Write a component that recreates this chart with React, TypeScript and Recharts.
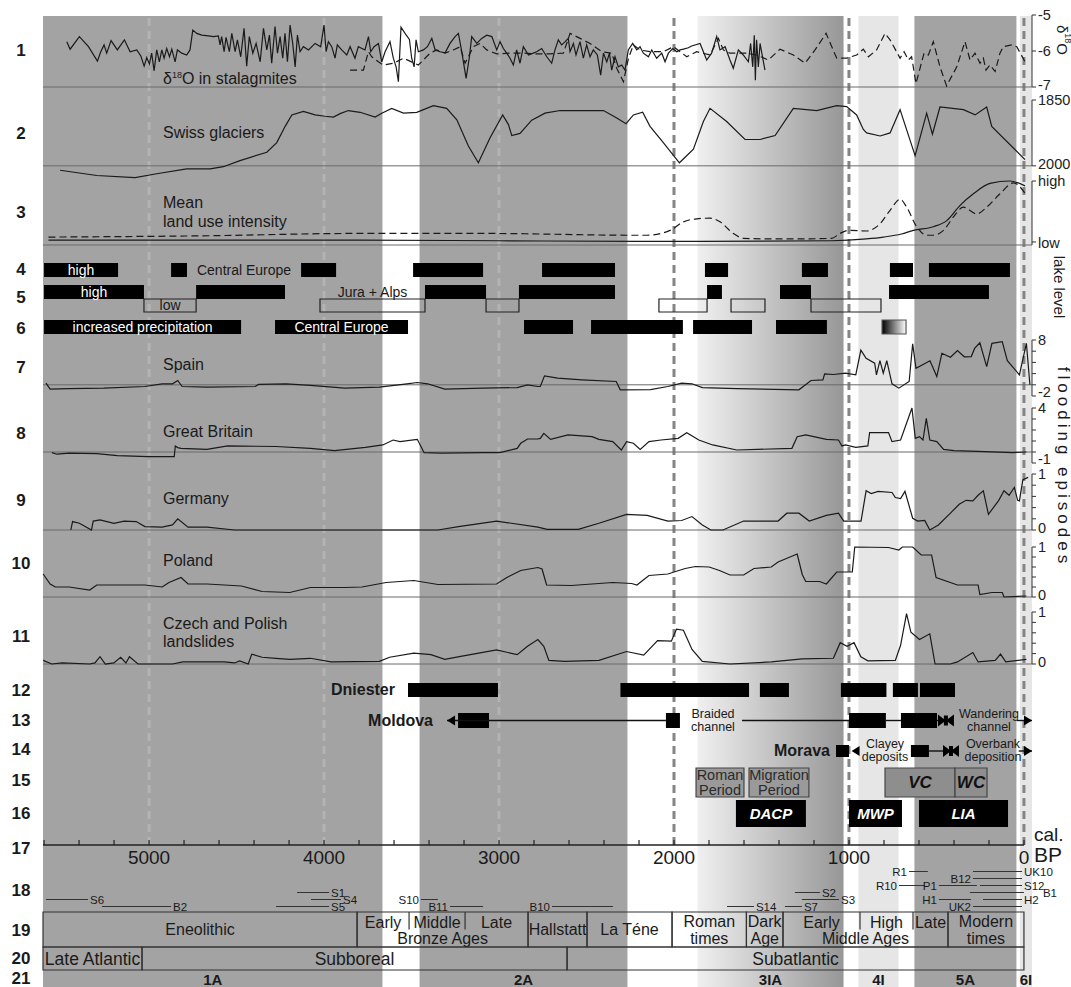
// App.tsx – multi-proxy Holocene panel (cal. BP), stacked Recharts strips
import React from 'react';
import {
  ComposedChart,
  LineChart,
  Line,
  XAxis,
  YAxis,
  ReferenceArea,
  ReferenceLine,
  ReferenceDot,
} from 'recharts';

const W = 1071;
const LEFT = 43;
const XMIN = -46;
const XMAX = 5606;
const FONT = 'Arial, "Liberation Sans", Helvetica, sans-serif';

type Pt = [number, number];
type Span = [number, number, string?];

// ---- background zones: [label, from, to, tone]
const BANDS: [string, number, number, string][] = [
  ['1A', 5606, 3666, 'dark'],
  ['2A', 3454, 2266, 'dark'],
  ['3IA', 1866, 1031, 'fade'],
  ['4I', 946, 717, 'light'],
  ['5A', 626, 43, 'dark'],
  ['6I', 23, -46, 'light'],
];
const GRID_YEARS = [5000, 4000, 3000, 2000, 1000, 0];
const AXIS_TICKS = [
  5600, 5400, 5200, 5000, 4800, 4600, 4400, 4200, 4000, 3800, 3600, 3400, 3200, 3000,
  2800, 2600, 2400, 2200, 2000, 1800, 1600, 1400, 1200, 1000, 800, 600, 400, 200, 0,
];

// ---- 1: d18O in stalagmites [yr BP, permil]
const STALAG_SOLID: Pt[] = [
  [5470, -5.74], [5451, -5.95], [5398, -5.6], [5346, -5.88], [5295, -6.28], [5276, -6.02], [5257, -5.83],
  [5242, -6.06], [5217, -5.71], [5181, -5.97], [5141, -5.69], [5108, -6.02], [5070, -5.97], [5047, -6.14],
  [5028, -6.42], [5013, -6.18], [4998, -6.36], [4985, -6.06], [4971, -6.55], [4956, -5.97], [4941, -6.3],
  [4927, -5.97], [4914, -6.2], [4899, -5.93], [4883, -6.16], [4870, -5.95], [4851, -6.3], [4838, -5.97],
  [4813, -6.06], [4785, -6.11], [4766, -5.97], [4750, -5.42], [4727, -5.51], [4699, -5.56], [4661, -5.58],
  [4632, -5.6], [4604, -5.58], [4594, -5.83], [4585, -5.6], [4571, -6.02], [4560, -5.62], [4541, -6.02],
  [4527, -5.51], [4508, -6.02], [4495, -5.69], [4476, -6.16], [4457, -5.37], [4442, -6.42], [4427, -5.6],
  [4407, -6.06], [4388, -5.79], [4365, -6.3], [4346, -5.37], [4327, -5.97], [4312, -5.56], [4299, -6.34],
  [4280, -5.32], [4266, -6.06], [4251, -5.6], [4236, -6.2], [4223, -5.51], [4209, -6.3], [4194, -5.28],
  [4179, -5.79], [4165, -6.44], [4152, -5.56], [4137, -6.02], [4118, -5.88], [4089, -5.97], [4051, -5.79],
  [4019, -5.88], [4000, -5.28], [3988, -6.02], [3975, -5.74], [3956, -5.88], [3937, -6.2], [3924, -5.83],
  [3899, -5.97], [3870, -6.11], [3851, -5.88], [3823, -6.2], [3804, -5.88], [3766, -5.97], [3746, -5.6],
  [3733, -6.02], [3714, -5.88], [3689, -5.79], [3670, -6.3], [3651, -6.02], [3623, -5.74], [3604, -6.2],
  [3588, -6.44], [3575, -6.85], [3560, -5.34], [3537, -5.51], [3512, -5.68], [3499, -6.2], [3485, -6.44],
  [3474, -5.69], [3461, -6.02], [3432, -5.97], [3409, -5.88], [3384, -5.65], [3365, -5.97], [3337, -6.02],
  [3308, -6.05], [3280, -5.79], [3251, -5.6], [3232, -5.51], [3213, -6.02], [3188, -6.76], [3169, -6.16],
  [3156, -5.6], [3127, -5.79], [3099, -5.65], [3070, -5.56], [3041, -5.6], [3013, -5.97], [2994, -5.74],
  [2975, -5.93], [2956, -6.06], [2937, -6.2], [2918, -6.39], [2899, -5.97], [2880, -6.34], [2861, -5.88],
  [2832, -6.11], [2804, -6.06], [2785, -6.02], [2756, -5.93], [2727, -6.16], [2699, -6.34], [2680, -5.97],
  [2661, -5.69], [2642, -5.83], [2622, -5.74], [2604, -5.65], [2594, -6.02], [2575, -5.79], [2560, -6.11],
  [2537, -5.74], [2518, -6.2], [2499, -5.83], [2480, -6.16], [2461, -5.97], [2438, -6.11], [2419, -6.67],
  [2403, -6.06], [2384, -6.3], [2369, -6.06], [2356, -6.53], [2337, -6.16], [2318, -6.44], [2299, -6.39],
  [2280, -6.53], [2261, -5.97], [2236, -5.79], [2213, -5.97], [2194, -5.88], [2175, -6.06], [2146, -6.16],
  [2127, -5.97], [2099, -6.2], [2070, -6.06], [2051, -6.3], [2032, -6.06], [2007, -5.93], [1984, -6.02],
  [1965, -5.97], [1946, -5.95], [1918, -5.91], [1899, -5.86], [1851, -5.79], [1813, -6.25], [1785, -6.06],
  [1756, -5.6], [1737, -5.97], [1708, -5.88], [1680, -6.25], [1661, -6.48], [1632, -5.97], [1604, -6.11],
  [1575, -6.3], [1562, -5.79], [1550, -6.44], [1541, -5.56], [1535, -6.81], [1528, -5.69], [1518, -6.44],
  [1508, -5.79], [1493, -6.2], [1480, -6.53],
];
const STALAG_DASHED: Pt[] = [
  [3851, -6.53], [3823, -6.53], [3775, -6.53], [3746, -6.02], [3727, -6.16], [3689, -6.3], [3661, -6.39],
  [3603, -6.34], [3546, -6.2], [3461, -6.39], [3394, -6.06], [3356, -5.97], [3308, -6.06], [3261, -5.97],
  [3222, -5.88], [3194, -6.34], [3146, -5.88], [3108, -5.79], [3070, -5.97], [3013, -6.08], [2937, -6.06],
  [2861, -6.06], [2784, -6.08], [2708, -6.08], [2632, -6.06], [2594, -5.51], [2537, -5.65], [2480, -5.79],
  [2413, -6.02], [2356, -6.06], [2327, -6.48], [2289, -6.85], [2260, -6.2], [2232, -5.83], [2194, -5.97],
  [2137, -6.02], [2061, -6.02], [2003, -5.88], [1927, -6.16], [1870, -6.02], [1794, -6.11], [1775, -5.93],
  [1746, -5.65], [1718, -5.97], [1680, -6.06], [1632, -6.06], [1585, -6.06], [1527, -6.11], [1461, -6.25],
  [1394, -5.95], [1318, -6.11], [1251, -6.34], [1194, -5.97], [1131, -5.51], [1070, -6.2], [1013, -6.2],
  [956, -6.11], [918, -5.95], [889, -6.16], [842, -5.97], [794, -5.51], [765, -5.69], [708, -6.2],
  [685, -6.02], [661, -6.25], [642, -6.16], [617, -6.9], [594, -6.48], [571, -6.06], [546, -6.11],
  [518, -5.74], [480, -6.44], [442, -6.97], [384, -6.44], [337, -5.74], [308, -6.25], [280, -6.06],
  [251, -6.34], [232, -6.2], [217, -6.53], [194, -6.39], [165, -6.57], [137, -6.06], [118, -5.88],
  [70, -5.83], [41, -5.88], [-6, -6.3],
];

// ---- 2: Swiss glaciers [yr BP, glacier extent as AD-year scale]
const GLACIERS: Pt[] = [
  [5508, 2010], [5299, 2022], [5080, 2027], [4956, 2018], [4785, 2007], [4651, 2007], [4575, 2002],
  [4480, 1988], [4327, 1969], [4270, 1947], [4222, 1910], [4184, 1884], [4118, 1876], [4051, 1884],
  [3994, 1887], [3946, 1889], [3908, 1881], [3861, 1874], [3794, 1878], [3708, 1889], [3670, 1880],
  [3613, 1869], [3546, 1880], [3470, 1878], [3375, 1863], [3299, 1869], [3241, 1895], [3175, 1955],
  [3118, 1993], [3051, 1936], [2979, 1884], [2946, 1906], [2927, 1931], [2880, 1926], [2813, 1896],
  [2737, 1880], [2651, 1874], [2518, 1874], [2403, 1874], [2327, 1891], [2274, 1904], [2232, 1884],
  [2179, 1878], [2137, 1910], [2061, 1947], [1969, 1993], [1889, 1962], [1832, 1899], [1794, 1869],
  [1699, 1899], [1594, 1940], [1508, 1940], [1422, 1931], [1318, 1869], [1184, 1874], [1070, 1863],
  [1013, 1865], [956, 1884], [918, 1917], [899, 1925], [822, 1932], [765, 1925], [708, 1872],
  [622, 1977], [556, 1880], [523, 1928], [480, 1866], [346, 1872], [279, 1884], [213, 1866],
  [184, 1910], [-6, 1986],
];

// ---- 3: mean land use intensity (0 low .. 1 high)
const LANDUSE_SOLID: Pt[] = [
  [5575, 0.03], [4500, 0.03], [3800, 0.03], [3000, 0.02], [2200, 0.01], [1851, 0.01], [1100, 0.02],
  [900, 0.05], [803, 0.08], [700, 0.13], [632, 0.19], [518, 0.25], [441, 0.35], [365, 0.6], [289, 0.79],
  [194, 0.96], [80, 1.0], [-6, 0.92],
];
const LANDUSE_DASHED: Pt[] = [
  [5575, 0.08], [4708, 0.1], [3794, 0.14], [3089, 0.14], [2232, 0.11], [2156, 0.11], [2022, 0.19],
  [1946, 0.33], [1870, 0.38], [1794, 0.39], [1737, 0.33], [1661, 0.14], [1604, 0.06], [1470, 0.05],
  [1280, 0.05], [1099, 0.06], [1051, 0.14], [1003, 0.19], [899, 0.18], [822, 0.3], [765, 0.52],
  [708, 0.7], [670, 0.57], [613, 0.25], [556, 0.11], [518, 0.11], [460, 0.19], [403, 0.41], [346, 0.57],
  [270, 0.46], [213, 0.57], [137, 0.79], [60, 0.97], [-6, 0.8],
];

// ---- 4-6: lake levels / precipitation [from, to, label]
const LAKE_CE: Span[] = [
  [5600, 5177, 'high'], [4874, 4783], [4131, 3931], [3491, 3091], [2754, 2337], [1823, 1691],
  [1269, 1120], [766, 634], [543, 80],
];
const LAKE_JURA_HIGH: Span[] = [
  [5600, 5029, 'high'], [4731, 4223], [3423, 3074], [2886, 2337], [1811, 1726], [1394, 1217], [771, 200],
];
const LAKE_JURA_LOW: Span[] = [
  [5029, 4731, 'low'], [4023, 3423], [3074, 2886], [2086, 1811], [1674, 1480], [1217, 817],
];
const PRECIP: Span[] = [
  [5600, 4474, 'increased precipitation'], [4280, 3520, 'Central Europe'], [2857, 2577], [2474, 1949],
  [1891, 1554], [1417, 1126],
];
const PRECIP_FADE: Span[] = [[811, 674]];

// ---- 7-11: flooding episodes / landslides
const SPAIN: Pt[] = [
  [5589, 0.3], [5565, -0.77], [5457, -0.7], [5260, -0.6], [5024, -0.3], [4925, 0.18], [4866, 0.18],
  [4836, 0.77], [4811, -0.3], [4669, -0.4], [4393, -0.3], [4374, 0.06], [4216, 0.18], [4078, -0.1],
  [3881, -0.6], [3684, -0.4], [3526, 0.18], [3467, 0.41], [3408, 0.18], [3310, -0.77], [3093, -0.6],
  [2896, -0.5], [2837, 0.0], [2778, -0.3], [2764, -0.3], [2740, 1.6], [2665, 1.19], [2527, 0.89],
  [2330, 0.59], [2307, -0.89], [2134, -0.85], [2035, -0.3], [1956, 0.3], [1897, 0.18], [1838, -0.5],
  [1641, -0.7], [1286, -0.89], [1217, 0.77], [1149, 0.89], [1139, 1.96], [1089, 1.84], [1020, 2.07],
  [961, 1.8], [932, 6.2], [902, 4.74], [853, 3.85], [843, 1.78], [823, 4.3], [804, 2.07], [784, 4.3],
  [754, 0.18], [715, -0.6], [656, 0.6], [636, 7.3], [617, 2.96], [537, 4.3], [498, 1.48], [469, 5.63],
  [420, 4.92], [380, 6.1], [341, 5.0], [301, 5.04], [282, 6.5], [252, 7.5], [213, 3.26], [183, 7.4],
  [124, 7.7], [95, 4.3], [26, 1.78], [-14, 7.4], [-34, 0],
];
const BRITAIN: Pt[] = [
  [5555, -0.06], [5526, -0.2], [5457, -0.1], [5299, -0.15], [5181, -0.33], [5004, -0.42], [4856, -0.42],
  [4850, 0.55], [4836, 0.4], [4817, 0.33], [4669, 0.24], [4551, 0.55], [4275, 0.5], [4078, 0.33],
  [3940, 0.12], [3763, 0.42], [3664, 0.64], [3605, 1.09], [3566, 0.95], [3467, 1.15], [3428, -0.06],
  [3330, -0.1], [3093, -0.06], [2995, -0.06], [2896, 0.33], [2876, 0.79], [2837, 1.18], [2778, 1.18],
  [2764, 1.24], [2744, 1.7], [2705, 1.15], [2606, 1.55], [2468, 1.4], [2429, 1.15], [2350, 0.94],
  [2301, 0.18], [2271, 0.94], [2232, 0.8], [2193, 0.24], [2143, 0.94], [2074, 1.09], [1976, 1.24],
  [1927, 1.76], [1858, 1.09], [1779, 0.64], [1641, 0.18], [1523, 0.24], [1326, 0.33], [1296, 1.39],
  [1247, 1.55], [1129, 1.15], [1060, 1.09], [1040, 0.55], [1020, 0.64], [961, 0.42], [892, 0.55],
  [882, 1.76], [774, 1.76], [754, 0.94], [705, 1.09], [640, 4.0], [621, 1.24], [597, 1.4], [577, 1.09],
  [558, 3.06], [538, 1.09], [498, 0.94], [459, 0.24], [400, 0.12], [262, 0.06], [65, -0.06], [-14, 0.0],
];
const GERMANY: Pt[] = [
  [5447, 0], [5437, 0.15], [5398, 0.12], [5329, 0], [5319, 0.16], [5280, 0.18], [5201, 0.12],
  [5142, 0.16], [5073, 0.15], [5024, 0.06], [4925, 0.05], [4866, 0.09], [4836, 0.2], [4777, 0.05],
  [4669, 0.05], [4511, 0], [4078, 0], [3664, 0], [3349, 0], [3231, 0.06], [3014, 0.16], [2778, 0.05],
  [2725, 0.01], [2547, 0.01], [2429, 0.12], [2271, 0.28], [2153, 0.26], [2035, 0.16], [1956, 0.17],
  [1897, 0.24], [1838, 0.09], [1789, 0], [1720, 0], [1602, 0.16], [1405, 0.16], [1355, 0.3], [1286, 0.3],
  [1227, 0.16], [1129, 0.26], [1060, 0.3], [1030, 0.16], [931, 0.16], [902, 0.7], [873, 0.65],
  [833, 0.69], [754, 0.67], [735, 0.58], [705, 0.56], [680, 0.69], [636, 0.21], [607, 0.16], [567, 0.17],
  [538, 0], [489, 0.09], [420, 0.3], [370, 0.46], [331, 0.53], [292, 0.52], [262, 0.62], [232, 0.7],
  [203, 0.28], [144, 0.53], [114, 0.7], [85, 0.62], [55, 0.76], [36, 0.53], [26, 0.52], [6, 0.9],
  [-24, 0.94],
];
const POLAND: Pt[] = [
  [5605, 0.46], [5565, 0.26], [5536, 0.2], [5457, 0.2], [5339, 0.14], [5299, 0.24], [5024, 0.24],
  [4925, 0.2], [4886, 0.29], [4817, 0.39], [4777, 0.26], [4669, 0.26], [4472, 0.22], [4354, 0.11],
  [4196, 0.09], [4078, 0.19], [3881, 0.19], [3783, 0.2], [3645, 0.29], [3487, 0.33], [3349, 0.25],
  [3014, 0.26], [2955, 0.39], [2876, 0.53], [2778, 0.59], [2754, 0.56], [2728, 0.24], [2587, 0.23],
  [2350, 0.29], [2242, 0.27], [2212, 0.24], [2143, 0.43], [2035, 0.46], [1936, 0.57], [1877, 0.61],
  [1799, 0.6], [1740, 0.53], [1680, 0.44], [1602, 0.44], [1543, 0.57], [1444, 0.6], [1405, 0.7],
  [1296, 0.86], [1267, 0.45], [1247, 0.31], [1168, 0.31], [1129, 0.26], [1070, 0.5], [981, 0.5],
  [967, 1.0], [774, 0.99], [715, 0.94], [695, 1.0], [636, 1.0], [587, 0.84], [528, 0.84], [502, 0.39],
  [380, 0.24], [262, 0.24], [252, 0.05], [183, 0.09], [124, 0.09], [114, 0.0], [-14, 0.02],
];
const LANDSLIDES: Pt[] = [
  [5605, 0.07], [5556, 0.0], [5496, 0.02], [5339, 0.0], [5309, 0.02], [5280, 0.14], [5250, 0.0],
  [5201, 0.02], [5162, 0.13], [5132, 0.02], [5112, 0.14], [5063, 0.0], [5004, 0.0], [4866, 0.0],
  [4807, 0.04], [4570, 0.04], [4511, 0.02], [4482, 0.06], [4433, 0.0], [4413, 0.19], [4354, 0.13],
  [4275, 0.11], [4196, 0.09], [4078, 0.11], [3960, 0.04], [3684, 0.05], [3625, 0.13], [3487, 0.21],
  [3389, 0.18], [3310, 0.09], [3211, 0.15], [3132, 0.2], [3014, 0.27], [2896, 0.18], [2837, 0.34],
  [2778, 0.47], [2744, 0.34], [2715, 0.07], [2626, 0.05], [2429, 0.07], [2271, 0.24], [2173, 0.17],
  [2094, 0.45], [2015, 0.44], [1986, 0.67], [1946, 0.65], [1897, 0.28], [1838, 0.05], [1680, 0.0],
  [1444, 0.04], [1267, 0.1], [1089, 0.11], [1050, 0.41], [1011, 0.34], [971, 0.41], [932, 0.14],
  [892, 0.06], [735, 0.07], [705, 0.36], [671, 0.97], [646, 0.61], [597, 0.47], [538, 0.58], [508, 0.0],
  [420, 0.0], [380, 0.04], [292, 0.22], [262, 0.04], [164, 0.07], [134, 0.19], [104, 0.04], [-14, 0.09],
];

// ---- 12-16: fluvial phases, periods, climate
const DNIESTER: Span[] = [[3520, 3006], [2306, 1571], [1509, 1343], [1046, 786], [749, 606], [594, 394]];
const MOLDOVA_BARS: Span[] = [[3234, 3057], [2046, 1966], [1000, 789], [703, 497]];
const MOLDOVA_LINE: Span[] = [[3297, 2046], [1611, 1000], [789, 703], [497, 446], [40, XMIN]];
const MOLDOVA_ARROWS: [number, string][] = [[3297, 'left'], [XMIN, 'right']];
const MOLDOVA_TIES = [446];
const MORAVA_BARS: Span[] = [[1074, 1000], [646, 543]];
const MORAVA_LINE: Span[] = [[543, 417], [30, XMIN]];
const MORAVA_ARROWS: [number, string][] = [[985, 'left'], [XMIN, 'right']];
const MORAVA_TIES = [417];
const HIST_PERIODS: Span[] = [[1874, 1600, 'Roman|Period'], [1571, 1229, 'Migration|Period']];
const COLD_PHASES: Span[] = [[794, 394, 'VC'], [394, 211, 'WC']];
const CLIMATE: Span[] = [[1646, 1246, 'DACP'], [1000, 697, 'MWP'], [600, 91, 'LIA']];

// ---- 18: dated profiles [label, from, to, lane, label side]
const DATINGS: [string, number, number, number, string][] = [
  ['S6', 5589, 5349, 4, 'right'], ['B2', 5269, 4874, 5, 'right'], ['S1', 4154, 3971, 3, 'right'],
  ['S4', 4074, 3903, 4, 'right'], ['S5', 4274, 3971, 5, 'right'], ['S10', 3446, 3349, 4, 'left'],
  ['B11', 3280, 3091, 5, 'left'], ['B10', 2697, 2349, 5, 'left'], ['S14', 1697, 1543, 5, 'right'],
  ['S7', 1366, 1269, 5, 'right'], ['S2', 1309, 1166, 3, 'right'], ['S3', 1269, 1057, 4, 'right'],
  ['R1', 657, 549, 0, 'left'], ['R10', 714, 566, 2, 'left'], ['P1', 486, 269, 2, 'left'],
  ['B12', 291, 11, 1, 'left'], ['UK10', 291, 11, 0, 'right'], ['S12', 251, 11, 2, 'right'],
  ['B1', 309, 0, 3, 'right'], ['H1', 486, 303, 4, 'left'], ['H2', 234, 11, 4, 'right'],
  ['UK2', 291, 11, 5, 'left'],
];

// ---- 19-20: cultural periods & chronozones
const CULTURES: Span[] = [
  [5606, 3811, 'Eneolithic'], [3811, 2834, ''], [2834, 2497, 'Hallstatt'], [2497, 2011, 'La Téne'],
  [2011, 1586, 'Roman|times'], [1586, 1377, 'Dark|Age'], [1377, 434, ''], [434, 0, 'Modern|times'],
];
const CULTURE_PHASES: Span[] = [
  [3811, 3514, 'Early'], [3514, 3194, 'Middle'], [3194, 2834, 'Late'],
  [1377, 937, 'Early'], [937, 634, 'High'], [634, 434, 'Late'],
];
const CULTURE_GROUPS: Span[] = [[3811, 2834, 'Bronze Ages'], [1377, 434, 'Middle Ages']];
const PHASE_DIVIDERS = [3514, 3194, 937, 634];
const CHRONOZONES: Span[] = [[5606, 5040, 'Late Atlantic'], [5040, 2611, 'Subboreal'], [2611, 0, 'Subatlantic']];

const ROW_NUMBERS: [string, number][] = [
  ['1', 50], ['2', 133], ['3', 212], ['4', 269], ['5', 297], ['6', 328], ['7', 367], ['8', 433],
  ['9', 500], ['10', 563], ['11', 636], ['12', 690], ['13', 720], ['14', 749], ['15', 780], ['16', 813],
  ['17', 848], ['18', 890], ['19', 930], ['20', 958], ['21', 978],
];
const TITLES: [string, number][] = [
  ['Swiss glaciers', 133], ['Mean', 203], ['land use intensity', 222], ['Spain', 365],
  ['Great Britain', 432], ['Germany', 499], ['Poland', 561], ['Czech and Polish', 624], ['landslides', 642],
];

const EDGE = [{ yr: XMIN }, { yr: XMAX }];
const pts = (a: Pt[]) => a.map(([yr, v]) => ({ yr, v }));
const TONE: Record<string, string> = { dark: '#a3a3a3', light: '#e6e6e6', fade: 'url(#fade3IA)' };
const inDark = (yr: number) => BANDS.some(([, a, b, t]) => t === 'dark' && yr <= a && yr >= b);

// multi-line centred text for ReferenceArea labels
const boxText =
  (text: string, size: number, color = '#1a1a1a', weight = 400, italic = false, lh = size * 1.05) =>
  (props: any) => {
    const vb = props.viewBox || {};
    const cx = vb.x + vb.width / 2;
    const cy = vb.y + vb.height / 2;
    const lines = text.split('|');
    const y0 = cy - ((lines.length - 1) * lh) / 2 + size * 0.35;
    return (
      <text
        textAnchor="middle"
        fontFamily={FONT}
        fontSize={size}
        fontWeight={weight}
        fontStyle={italic ? 'italic' : 'normal'}
        fill={color}
      >
        {lines.map((l, i) => (
          <tspan key={i} x={cx} y={y0 + i * lh}>
            {l}
          </tspan>
        ))}
      </text>
    );
  };

function Strip({ top, height, yDomain = [0, 1], yReversed = false, children }: any) {
  return (
    <div style={{ position: 'absolute', left: 0, top }}>
      <ComposedChart width={W} height={height} data={EDGE} margin={{ top: 0, right: 39, bottom: 0, left: LEFT }}>
        <XAxis type="number" dataKey="yr" domain={[XMIN, XMAX]} reversed hide allowDataOverflow />
        <YAxis type="number" domain={yDomain} reversed={yReversed} hide allowDataOverflow />
        {children}
      </ComposedChart>
    </div>
  );
}

// right-hand tick label; the lowest label of a strip is lifted a little, as in the source
const SideTick = ({ x, y, payload, fmt, low, lift }: any) => {
  const txt = fmt ? fmt(payload.value) : String(payload.value);
  if (!txt) return null;
  const dy = payload.value === low ? -lift : 0;
  return (
    <text x={x} y={y + dy} dy="0.36em" textAnchor="start" fontSize={14.5} fill="#222" fontFamily={FONT}>
      {txt}
    </text>
  );
};

function Panel({ top, height, domain, ticks, fmt, reversed = false, axisLine = true, lift = 2, children }: any) {
  const low = reversed ? domain[1] : domain[0];
  const lowTick = ticks.includes(low) ? low : reversed ? Math.max(...ticks) : Math.min(...ticks);
  return (
    <div style={{ position: 'absolute', left: 0, top }}>
      <LineChart width={W} height={height} margin={{ top: 0, right: 0, bottom: 0, left: LEFT }}>
        <XAxis type="number" dataKey="yr" domain={[XMIN, XMAX]} reversed hide />
        <YAxis
          orientation="right"
          type="number"
          width={39}
          domain={domain}
          ticks={ticks}
          interval={0}
          reversed={reversed}
          axisLine={axisLine}
          stroke="#333"
          tickSize={4}
          tickMargin={2}
          tick={<SideTick fmt={fmt} low={lowTick} lift={lift} />}
        />
        {children}
      </LineChart>
    </div>
  );
}

const series = (data: Pt[], dashed = false, curve: any = 'linear') => (
  <Line
    data={pts(data)}
    dataKey="v"
    type={curve}
    stroke="#1a1a1a"
    strokeWidth={1.2}
    strokeDasharray={dashed ? '7 4' : undefined}
    dot={false}
    activeDot={false}
    isAnimationActive={false}
  />
);

const separator = (y: number) => <ReferenceLine y={y} stroke="#6a6a6a" strokeWidth={1} />;

const bars = (list: Span[], fill = '#000', stroke = 'none', labelFn?: (t: string) => any) =>
  list.map(([a, b, lbl], i) => (
    <ReferenceArea
      key={`${a}-${i}`}
      x1={a}
      x2={b}
      y1={0}
      y2={1}
      fill={fill}
      fillOpacity={1}
      stroke={stroke}
      strokeWidth={1.2}
      ifOverflow="visible"
      label={lbl && labelFn ? labelFn(lbl) : undefined}
    />
  ));

const Arrow = ({ cx, cy, dir }: any) => {
  const s = dir === 'left' ? 1 : -1;
  return <polygon points={`${cx},${cy} ${cx + 8 * s},${cy - 5} ${cx + 8 * s},${cy + 5}`} fill="#000" />;
};
const Tie = ({ cx, cy }: any) => (
  <g fill="#000">
    <polygon points={`${cx - 8},${cy - 6} ${cx - 8},${cy + 6} ${cx},${cy}`} />
    <polygon points={`${cx + 8},${cy - 6} ${cx + 8},${cy + 6} ${cx},${cy}`} />
    <rect x={cx - 2} y={cy - 5} width={4} height={10} />
  </g>
);

const channel = (lines: Span[], barsList: Span[], arrows: [number, string][], ties: number[]) => [
  ...lines.map(([a, b], i) => (
    <ReferenceLine
      key={`l${i}`}
      segment={[{ x: a, y: 0.5 }, { x: b, y: 0.5 }]}
      stroke="#111"
      strokeWidth={1.4}
      ifOverflow="visible"
    />
  )),
  ...bars(barsList),
  ...arrows.map(([x, dir], i) => (
    <ReferenceDot key={`a${i}`} x={x} y={0.5} r={1} ifOverflow="visible" shape={(p: any) => <Arrow {...p} dir={dir} />} />
  )),
  ...ties.map((x, i) => (
    <ReferenceDot key={`t${i}`} x={x} y={0.5} r={1} ifOverflow="visible" shape={(p: any) => <Tie {...p} />} />
  )),
];

const AxisTick = (props: any) => {
  const { x, y, payload } = props;
  const v = payload.value;
  return (
    <g>
      <line x1={x} x2={x} y1={y} y2={y - 5} stroke="#222" strokeWidth={1.2} />
      {v % 1000 === 0 && (
        <text x={x} y={y + 19} textAnchor="middle" fontSize={19} fill="#1a1a1a" fontFamily={FONT}>
          {v}
        </text>
      )}
    </g>
  );
};

function Txt({ x, y, children, size = 16, bold = false, anchor = 'start', color = '#1a1a1a', vertical = false, spacing = 0, lh = 1 }: any) {
  const tx = anchor === 'middle' ? '-50%' : anchor === 'end' ? '-100%' : '0';
  return (
    <div
      style={{
        position: 'absolute',
        left: x,
        top: y,
        transform: `translate(${tx}, -50%)`,
        writingMode: vertical ? 'vertical-rl' : undefined,
        fontSize: size,
        fontWeight: bold ? 700 : 400,
        color,
        whiteSpace: 'nowrap',
        lineHeight: lh,
        letterSpacing: spacing,
        textAlign: 'center',
        fontFamily: FONT,
      }}
    >
      {children}
    </div>
  );
}

const ends = (a: number, b: number) => (v: number) => (v === a || v === b ? String(v) : '');

export default function App() {
  return (
    <div style={{ position: 'absolute', left: 0, top: 0, width: W, height: 987, background: '#fff', fontFamily: FONT, overflow: 'hidden' }}>
      <style>{'.recharts-surface{overflow:visible}'}</style>
      <svg width={0} height={0} style={{ position: 'absolute' }}>
        <defs>
          <linearGradient id="fade3IA" x1="0" y1="0" x2="1" y2="0">
            <stop offset="0" stopColor="#f0f0f0" />
            <stop offset="1" stopColor="#979797" />
          </linearGradient>
          <linearGradient id="fadeBox" x1="0" y1="0" x2="1" y2="0">
            <stop offset="0" stopColor="#000" />
            <stop offset="1" stopColor="#fff" />
          </linearGradient>
        </defs>
      </svg>

      {/* zones */}
      <Strip top={16} height={971}>
        {BANDS.map(([lbl, a, b, tone]) => (
          <ReferenceArea key={lbl} x1={a} x2={b} y1={0} y2={1} fill={TONE[tone]} fillOpacity={1} stroke="none" ifOverflow="visible" />
        ))}
      </Strip>

      {/* millennium dashed lines */}
      <Strip top={17} height={828}>
        {GRID_YEARS.map((yr) => (
          <ReferenceLine key={yr} segment={[{ x: yr, y: 0 }, { x: yr, y: 1 }]} stroke={inDark(yr) ? '#b3b3b3' : '#858585'} strokeWidth={3} strokeDasharray="8 5" ifOverflow="visible" />
        ))}
      </Strip>

      {/* 1 */}
      <Panel top={15} height={72} domain={[-7, -5]} ticks={[-7, -6, -5]}>
        {separator(-7)}
        {series(STALAG_SOLID)}
        {series(STALAG_DASHED, true)}
      </Panel>
      {/* 2 */}
      <Panel top={100} height={79} domain={[1850, 2030]} ticks={[1850, 2000]} reversed axisLine={false}>
        {separator(2000)}
        <ReferenceLine segment={[{ x: XMIN, y: 1850 }, { x: XMIN, y: 2000 }]} stroke="#333" ifOverflow="visible" />
        {series(GLACIERS)}
      </Panel>
      {/* 3 */}
      <Panel top={181} height={64} domain={[-0.05, 1]} ticks={[0, 1]} fmt={(v: number) => (v === 1 ? 'high' : 'low')} lift={-1}>
        {separator(-0.05)}
        {series(LANDUSE_SOLID, false, 'monotone')}
        {series(LANDUSE_DASHED, true, 'monotone')}
      </Panel>

      {/* 4-6 lake levels */}
      <Strip top={263} height={14}>
        {bars(LAKE_CE, '#000', 'none', (t) => boxText(t, 14, '#fff'))}
        <ReferenceArea x1={4783} x2={4131} y1={0} y2={1} fill="none" stroke="none" ifOverflow="visible" label={boxText('Central Europe', 14)} />
      </Strip>
      <Strip top={285} height={14}>
        {bars(LAKE_JURA_HIGH, '#000', 'none', (t) => boxText(t, 14, '#fff'))}
        <ReferenceArea x1={4023} x2={3423} y1={0} y2={1} fill="none" stroke="none" ifOverflow="visible" label={boxText('Jura + Alps', 14)} />
      </Strip>
      <Strip top={299} height={13}>
        {bars(LAKE_JURA_LOW, 'none', '#222', (t) => boxText(t, 14))}
      </Strip>
      <Strip top={320} height={14}>
        {bars(PRECIP, '#000', 'none', (t) => boxText(t, 14, '#fff'))}
        {bars(PRECIP_FADE, 'url(#fadeBox)', '#555')}
      </Strip>

      {/* 7-11 */}
      <Panel top={340} height={56} domain={[-2, 8]} ticks={[-2, 0, 2, 4, 6, 8]} fmt={ends(-2, 8)} lift={4}>
        {separator(0)}
        {series(SPAIN)}
      </Panel>
      <Panel top={408} height={55} domain={[-1, 4]} ticks={[-1, 0, 1, 2, 3, 4]} fmt={ends(-1, 4)} lift={4}>
        {separator(0)}
        {series(BRITAIN)}
      </Panel>
      <Panel top={474} height={56} domain={[0, 1]} ticks={[0, 0.2, 0.4, 0.6, 0.8, 1]} fmt={ends(0, 1)} lift={2}>
        {separator(0)}
        {series(GERMANY)}
      </Panel>
      <Panel top={547} height={50} domain={[0, 1]} ticks={[0, 0.2, 0.4, 0.6, 0.8, 1]} fmt={ends(0, 1)} lift={2}>
        {separator(0)}
        {series(POLAND)}
      </Panel>
      <Panel top={612} height={52} domain={[0, 1]} ticks={[0, 0.2, 0.4, 0.6, 0.8, 1]} fmt={ends(0, 1)} lift={2}>
        {separator(0)}
        {series(LANDSLIDES)}
      </Panel>

      {/* 12-16 */}
      <Strip top={683} height={14}>{bars(DNIESTER)}</Strip>
      <Strip top={713} height={15}>{channel(MOLDOVA_LINE, MOLDOVA_BARS, MOLDOVA_ARROWS, MOLDOVA_TIES)}</Strip>
      <Strip top={745} height={12}>{channel(MORAVA_LINE, MORAVA_BARS, MORAVA_ARROWS, MORAVA_TIES)}</Strip>
      <Strip top={768} height={29}>
        {bars(HIST_PERIODS, '#9a9a9a', '#444', (t) => boxText(t, 14.5, '#2a2a2a', 400, false, 15))}
        {bars(COLD_PHASES, '#8e8e8e', '#444', (t) => boxText(t, 17, '#111', 700, true))}
      </Strip>
      <Strip top={800} height={27}>
        {bars(CLIMATE, '#000', 'none', (t) => boxText(t, 15, '#fff', 700, true))}
      </Strip>

      {/* 17 axis */}
      <div style={{ position: 'absolute', left: 0, top: 830 }}>
        <ComposedChart width={W} height={45} data={[{ yr: 0 }, { yr: XMAX }]} margin={{ top: 10, right: W - 1024, bottom: 0, left: LEFT }}>
          <XAxis
            type="number"
            dataKey="yr"
            domain={[0, XMAX]}
            reversed
            ticks={AXIS_TICKS}
            interval={0}
            height={30}
            tickLine={false}
            tickSize={0}
            tickMargin={0}
            axisLine={{ stroke: '#222', strokeWidth: 1.5 }}
            tick={<AxisTick />}
          />
          <YAxis type="number" domain={[0, 1]} hide allowDataOverflow />
        </ComposedChart>
      </div>

      {/* 18 datings */}
      <Strip top={868} height={42} yDomain={[0, 6]} yReversed>
        {DATINGS.map(([lbl, a, b, lane, side]) => (
          <ReferenceLine
            key={lbl}
            segment={[{ x: a, y: lane + 0.5 }, { x: b, y: lane + 0.5 }]}
            stroke="#333"
            strokeWidth={1}
            ifOverflow="visible"
            label={{ value: lbl, position: side, offset: lbl === 'B1' ? 19 : 2, fontSize: 11.5, fill: '#1a1a1a' }}
          />
        ))}
      </Strip>

      {/* 19 cultures */}
      <Strip top={912} height={35} yDomain={[0, 2]} yReversed>
        {CULTURES.map(([a, b, lbl], i) => (
          <ReferenceArea key={i} x1={a} x2={b} y1={0} y2={2} fill="none" stroke="#333" strokeWidth={1.2} ifOverflow="visible" label={lbl ? boxText(lbl, 16, '#1a1a1a', 400, false, 17) : undefined} />
        ))}
        {PHASE_DIVIDERS.map((x) => (
          <ReferenceLine key={x} segment={[{ x, y: 0 }, { x, y: 1 }]} stroke="#333" strokeWidth={1.2} ifOverflow="visible" />
        ))}
        {CULTURE_PHASES.map(([a, b, lbl], i) => (
          <ReferenceArea key={`p${i}`} x1={a} x2={b} y1={0} y2={1.15} fill="none" stroke="none" ifOverflow="visible" label={boxText(lbl as string, 16)} />
        ))}
        {CULTURE_GROUPS.map(([a, b, lbl], i) => (
          <ReferenceArea key={`g${i}`} x1={a} x2={b} y1={1} y2={2} fill="none" stroke="none" ifOverflow="visible" label={boxText(lbl as string, 16)} />
        ))}
      </Strip>
      {/* 20 chronozones */}
      <Strip top={947} height={23}>
        {CHRONOZONES.map(([a, b, lbl], i) => (
          <ReferenceArea key={i} x1={a} x2={b} y1={0} y2={1} fill="none" stroke="#333" strokeWidth={1.2} ifOverflow="visible" label={boxText(lbl as string, 17.5)} />
        ))}
      </Strip>
      {/* 21 zone labels */}
      <Strip top={971} height={17}>
        {BANDS.map(([lbl, a, b]) => (
          <ReferenceArea key={lbl} x1={a} x2={b} y1={0} y2={1} fill="none" stroke="none" ifOverflow="visible" label={boxText(lbl, 15, '#1a1a1a', 700)} />
        ))}
      </Strip>

      {/* texts */}
      {ROW_NUMBERS.map(([n, y]) => (
        <Txt key={n} x={21} y={y} size={17} bold anchor="middle">{n}</Txt>
      ))}
      <Txt x={163} y={79} size={16}>
        δ<sup style={{ fontSize: 9, verticalAlign: 'top', lineHeight: 1 }}>18</sup>O in stalagmites
      </Txt>
      {TITLES.map(([t, y]) => (
        <Txt key={t} x={163} y={y} size={16}>{t}</Txt>
      ))}
      <Txt x={1063} y={40} size={15} anchor="middle" vertical>
        δ<sup style={{ fontSize: 9, lineHeight: 1 }}>18</sup>O
      </Txt>
      <Txt x={1059} y={287} size={15} anchor="middle" vertical>lake level</Txt>
      <Txt x={1063} y={467} size={17} anchor="middle" vertical spacing={4}>flooding episodes</Txt>

      <Txt x={395} y={690} size={16} bold anchor="end">Dniester</Txt>
      <Txt x={433} y={721} size={16} bold anchor="end">Moldova</Txt>
      <Txt x={830} y={751} size={16} bold anchor="end">Morava</Txt>
      <Txt x={713} y={721} size={12.5} anchor="middle" lh={1.05}>Braided<br />channel</Txt>
      <Txt x={989} y={721} size={12.5} anchor="middle" lh={1.05}>Wandering<br />channel</Txt>
      <Txt x={885} y={751} size={12.5} anchor="middle" lh={1.05}>Clayey<br />deposits</Txt>
      <Txt x={993} y={751} size={12.5} anchor="middle" lh={1.05}>Overbank<br />deposition</Txt>

      <Txt x={1034} y={834} size={19}>cal.</Txt>
      <Txt x={1034} y={854} size={21}>BP</Txt>
    </div>
  );
}
